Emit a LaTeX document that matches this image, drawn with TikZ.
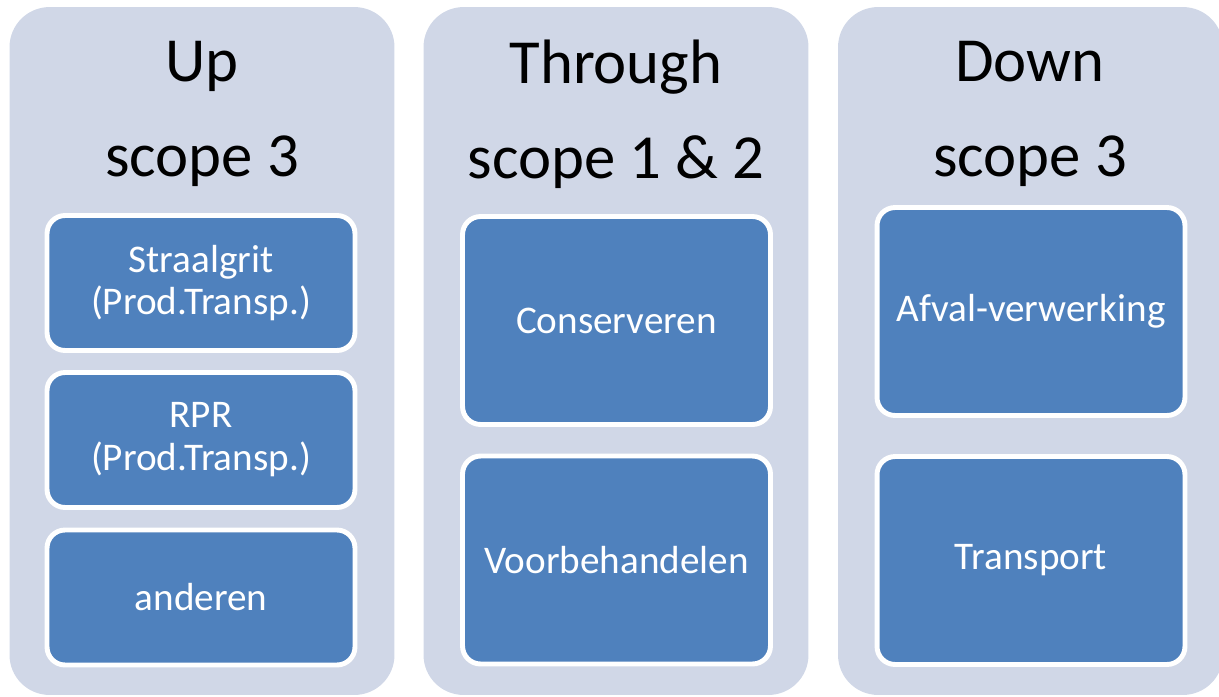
\documentclass[tikz,border=0pt]{standalone}
\usepackage{fontspec}
\setmainfont{Carlito}
\usetikzlibrary{positioning}

\definecolor{panelfill}{RGB}{208,215,231}
\definecolor{boxfill}{RGB}{79,129,189}

\begin{document}
\begin{tikzpicture}[
  x=0.02cm, y=-0.02cm,
  panel/.style={fill=panelfill, rounded corners=0.8cm, minimum width=7.7cm, minimum height=13.76cm, inner sep=0pt},
  heading/.style={align=center, inner sep=0pt, font=\fontsize{35.7}{53.9}\selectfont},
  item/.style={draw=white, line width=2.8pt, fill=boxfill, text=white, rounded corners=0.36cm, align=center, inner sep=0pt, minimum width=6.16cm, font=\fontsize{22.3}{24.4}\selectfont},
  small/.style={item, minimum height=2.7cm},
  big/.style={item, minimum height=4.16cm}
]
\useasboundingbox (0,0) rectangle (1219,696);

% three columns
\node[panel] (up) at (202,351) {};
\node[panel] (through) at (616,351) {};
\node[panel] (down) at (1030.5,351) {};

\node[heading] (uphead) at (202,114) {Up\\scope 3};
\node[heading] (throughhead) at (616,114) {Through\\scope 1 \& 2};
\node[heading] (downhead) at (1030,114) {Down\\scope 3};

% upstream
\node[small] (grit) at (201,283) {Straalgrit\\(Prod.Transp.)};
\node[small] (rpr) at (201,440) {RPR\\(Prod.Transp.)};
\node[small] (others) at (201,597.5) {anderen};

% own operations
\node[big] (conserve) at (616.5,320.5) {Conserveren};
\node[big] (pretreat) at (616.5,560) {Voorbehandelen};

% downstream
\node[big] (waste) at (1031,311.5) {Afval-verwerking};
\node[big] (transport) at (1031,560.5) {Transport};

\end{tikzpicture}
\end{document}
